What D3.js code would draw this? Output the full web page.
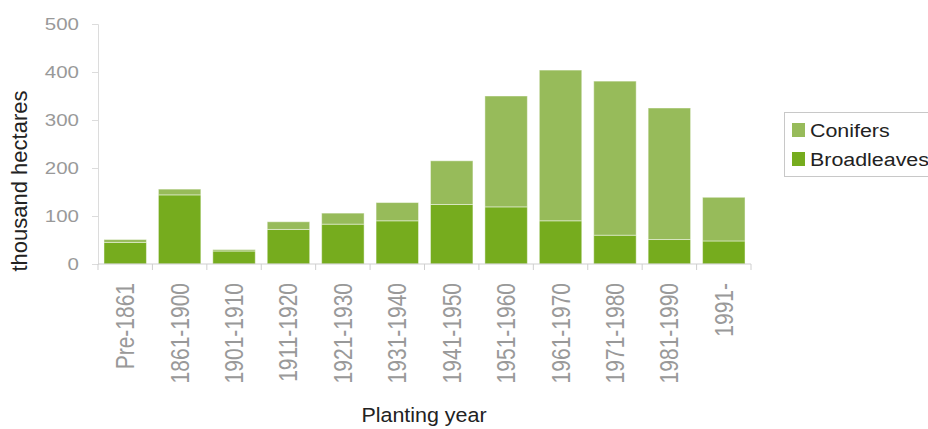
<!DOCTYPE html>
<html>
<head>
<meta charset="utf-8">
<script src="https://cdn.jsdelivr.net/npm/d3@7"></script>
<style>
  body { margin: 0; background: #fff; }
  svg { font-family: "Liberation Sans", Arial, sans-serif; }
</style>
</head>
<body>
<svg id="chart" width="928" height="429"></svg>
<script>
const periods = ["Pre-1861", "1861-1900", "1901-1910", "1911-1920", "1921-1930", "1931-1940",
  "1941-1950", "1951-1960", "1961-1970", "1971-1980", "1981-1990", "1991-"];
const broadleaves = [45, 144, 27, 72, 83, 90, 124, 119, 90, 60, 51, 48];
const conifers = [6, 12, 3, 16, 23, 38, 91, 231, 314, 321, 274, 91];
const yTicks = [0, 100, 200, 300, 400, 500];
const seriesNames = ["Conifers", "Broadleaves"];
const colors = { Conifers: "#97bb5a", Broadleaves: "#76ac1e" };

const svg = d3.select("#chart");
const margin = { left: 98, right: 177, top: 24, bottom: 165 }; // plot: 98..751, 24..264

const x = d3.scaleBand()
  .domain(periods)
  .range([margin.left, 928 - margin.right])
  .paddingInner(0.22)
  .paddingOuter(0.11);

const y = d3.scaleLinear().domain([0, 500]).range([429 - margin.bottom, margin.top]);

const rows = periods.map((p, i) => ({ period: p, Broadleaves: broadleaves[i], Conifers: conifers[i] }));
const stacked = d3.stack().keys(["Broadleaves", "Conifers"])(rows);

// the source image text is a bit wider than it is tall
const stretch = 1.28;

// y axis
const yAxis = svg.append("g").attr("transform", `translate(${margin.left},0)`)
  .call(d3.axisLeft(y).tickValues(yTicks).tickSize(6).tickFormat(""));
yAxis.select(".domain").attr("stroke", "#dcdcdc");
yAxis.selectAll(".tick line").attr("stroke", "#dcdcdc");
svg.append("g").selectAll("text").data(yTicks).join("text")
  .attr("transform", d => `translate(79,${y(d) + 5.5}) scale(${stretch},1)`)
  .attr("text-anchor", "end")
  .attr("fill", "#999")
  .style("font-size", "16px")
  .text(d => d);

// bars
svg.append("g").selectAll("g")
  .data(stacked)
  .join("g")
  .attr("fill", d => colors[d.key])
  .selectAll("rect")
  .data(d => d)
  .join("rect")
  .attr("x", d => x(d.data.period))
  .attr("width", x.bandwidth())
  .attr("y", d => y(d[1]))
  .attr("height", d => y(d[0]) - y(d[1]))
  .attr("stroke", "#fff")
  .attr("stroke-opacity", 0.45)
  .attr("stroke-width", 1);

// x axis
const y0 = y(0);
const step = x.step();
const boundaries = periods.map(p => x(p) - step * 0.11).concat([x(periods[periods.length - 1]) + x.bandwidth() + step * 0.11]);
const xg = svg.append("g");
xg.append("line")
  .attr("x1", margin.left).attr("x2", boundaries[boundaries.length - 1])
  .attr("y1", y0).attr("y2", y0)
  .attr("stroke", "#cfcfcf");
xg.selectAll(".tk").data(boundaries).join("line")
  .attr("x1", d => d).attr("x2", d => d)
  .attr("y1", y0).attr("y2", y0 + 6)
  .attr("stroke", "#cfcfcf");
xg.selectAll("text").data(periods).join("text")
  .attr("transform", d => `translate(${x(d) + x.bandwidth() / 2 + 9},${y0 + 19}) scale(1.2,1) rotate(-90)`)
  .attr("text-anchor", "end")
  .attr("fill", "#999")
  .style("font-size", "21px")
  .text(d => d);

// axis titles
svg.append("text")
  .attr("transform", `translate(27,181) rotate(-90)`)
  .attr("text-anchor", "middle")
  .attr("fill", "#222")
  .style("font-size", "22px")
  .text("thousand hectares");

svg.append("text")
  .attr("transform", "translate(424,422) scale(1.1,1)")
  .attr("text-anchor", "middle")
  .attr("fill", "#222")
  .style("font-size", "19.5px")
  .text("Planting year");

// legend
const legend = svg.append("g").attr("transform", "translate(784,112)");
legend.append("rect")
  .attr("x", 0.5).attr("y", 0.5).attr("width", 170).attr("height", 64)
  .attr("fill", "#fff").attr("stroke", "#c8c8c8");
seriesNames.forEach((name, i) => {
  const g = legend.append("g").attr("transform", `translate(8,${11 + i * 29})`);
  g.append("rect").attr("width", 13).attr("height", 14).attr("fill", colors[name]);
  g.append("text").attr("transform", "translate(18,14) scale(1.19,1)").attr("fill", "#222")
    .style("font-size", "18px").text(name);
});
</script>
</body>
</html>
